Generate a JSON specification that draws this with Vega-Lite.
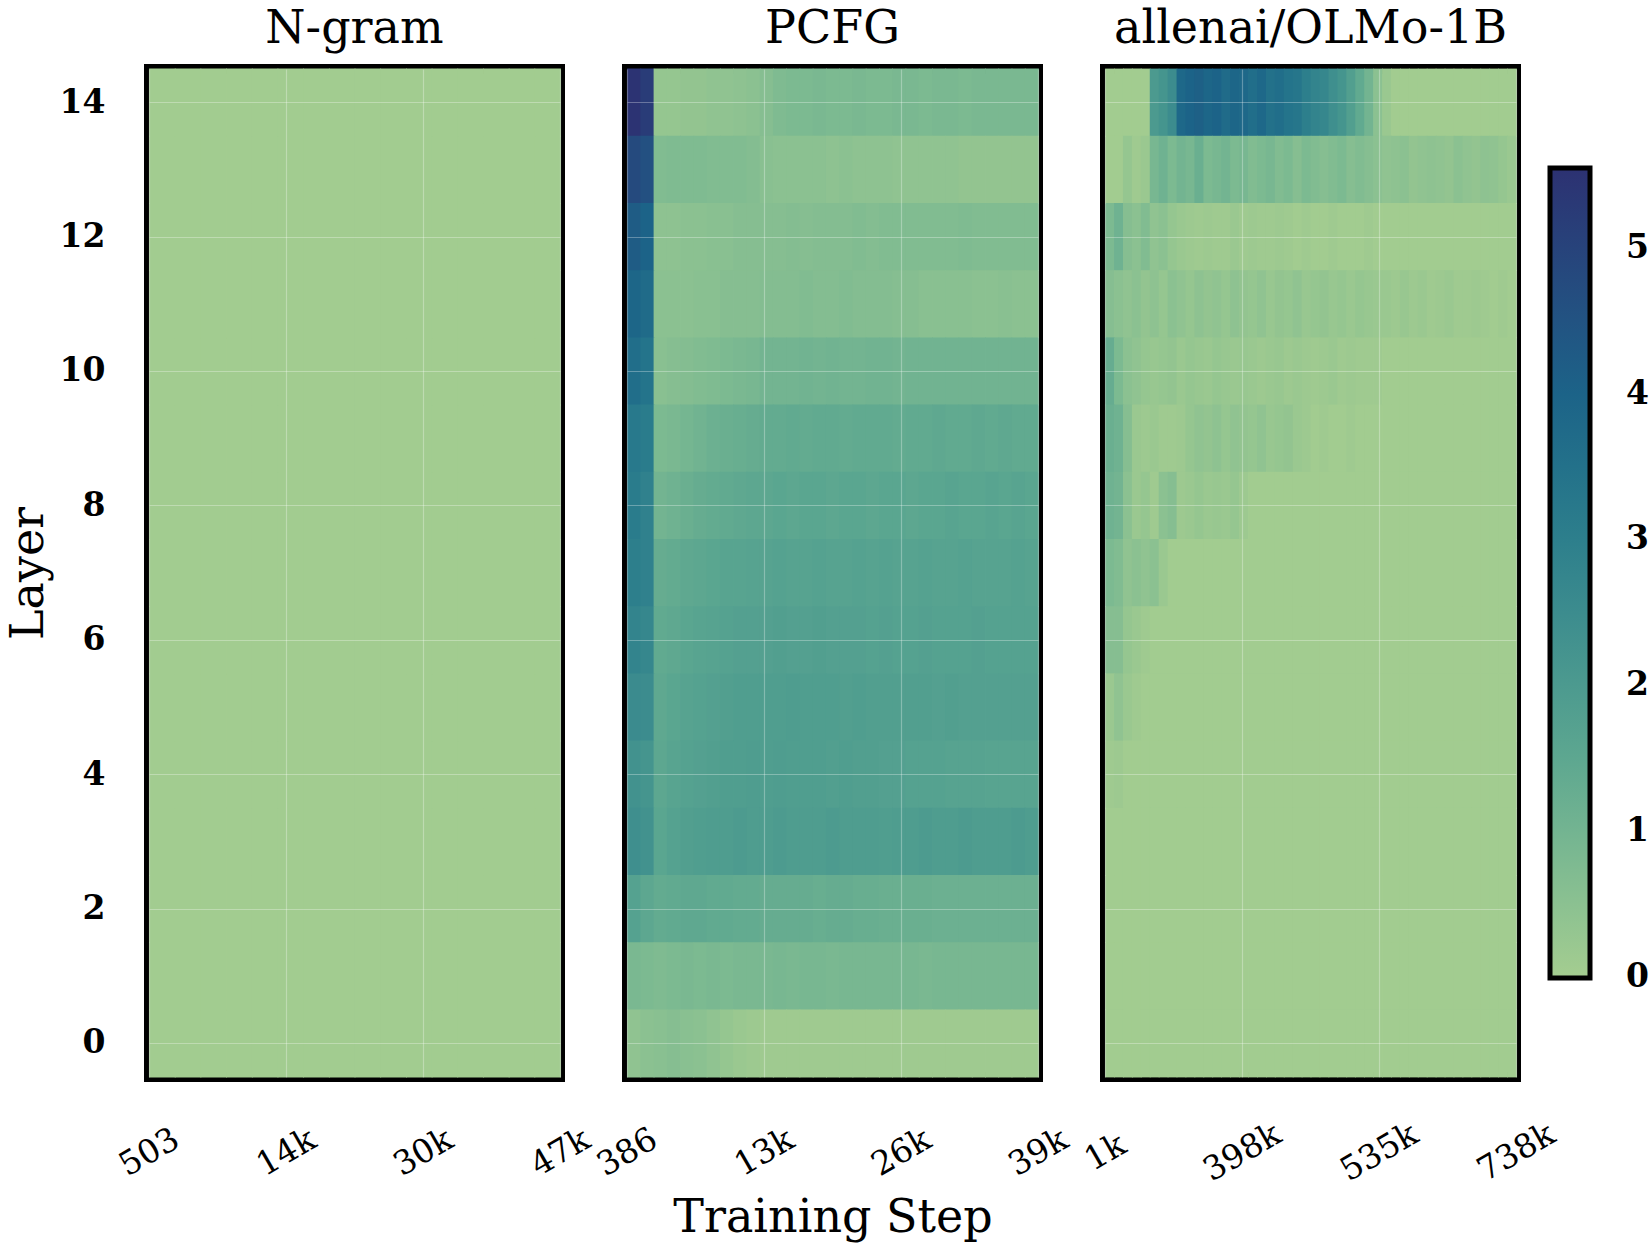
{
  "$schema": "https://vega.github.io/schema/vega-lite/v6.json",
  "padding": {"left": 0, "top": 0, "right": 0, "bottom": 0},
  "bounds": "flush",
  "config": {
    "font": "DejaVu Serif",
    "view": {"stroke": "black", "strokeWidth": 10},
    "axis": {
      "labelFont": "DejaVu Serif", "titleFont": "DejaVu Serif",
      "labelColor": "black", "titleColor": "black",
      "labelFontSize": 33, "titleFontSize": 46, "titleFontWeight": "normal",
      "ticks": false, "domain": false,
      "grid": true, "gridColor": "white", "gridOpacity": 0.3, "gridWidth": 1.2
    }
  },
  "datasets": {
    "ngram": [
      {"l":0,"s":0,"v":0.04},{"l":0,"s":1,"v":0.04},{"l":0,"s":2,"v":0.04},{"l":0,"s":3,"v":0.04},{"l":0,"s":4,"v":0.04},{"l":0,"s":5,"v":0.04},{"l":0,"s":6,"v":0.04},{"l":0,"s":7,"v":0.04},{"l":0,"s":8,"v":0.04},{"l":0,"s":9,"v":0.04},{"l":0,"s":10,"v":0.04},{"l":0,"s":11,"v":0.04},{"l":0,"s":12,"v":0.04},{"l":0,"s":13,"v":0.04},{"l":0,"s":14,"v":0.04},{"l":0,"s":15,"v":0.04},
      {"l":1,"s":0,"v":0.04},{"l":1,"s":1,"v":0.04},{"l":1,"s":2,"v":0.04},{"l":1,"s":3,"v":0.04},{"l":1,"s":4,"v":0.04},{"l":1,"s":5,"v":0.04},{"l":1,"s":6,"v":0.04},{"l":1,"s":7,"v":0.04},{"l":1,"s":8,"v":0.04},{"l":1,"s":9,"v":0.04},{"l":1,"s":10,"v":0.04},{"l":1,"s":11,"v":0.04},{"l":1,"s":12,"v":0.04},{"l":1,"s":13,"v":0.04},{"l":1,"s":14,"v":0.04},{"l":1,"s":15,"v":0.04},
      {"l":2,"s":0,"v":0.04},{"l":2,"s":1,"v":0.04},{"l":2,"s":2,"v":0.04},{"l":2,"s":3,"v":0.04},{"l":2,"s":4,"v":0.04},{"l":2,"s":5,"v":0.04},{"l":2,"s":6,"v":0.04},{"l":2,"s":7,"v":0.04},{"l":2,"s":8,"v":0.04},{"l":2,"s":9,"v":0.04},{"l":2,"s":10,"v":0.04},{"l":2,"s":11,"v":0.04},{"l":2,"s":12,"v":0.04},{"l":2,"s":13,"v":0.04},{"l":2,"s":14,"v":0.04},{"l":2,"s":15,"v":0.04},
      {"l":3,"s":0,"v":0.04},{"l":3,"s":1,"v":0.04},{"l":3,"s":2,"v":0.04},{"l":3,"s":3,"v":0.04},{"l":3,"s":4,"v":0.04},{"l":3,"s":5,"v":0.04},{"l":3,"s":6,"v":0.04},{"l":3,"s":7,"v":0.04},{"l":3,"s":8,"v":0.04},{"l":3,"s":9,"v":0.04},{"l":3,"s":10,"v":0.04},{"l":3,"s":11,"v":0.04},{"l":3,"s":12,"v":0.04},{"l":3,"s":13,"v":0.04},{"l":3,"s":14,"v":0.04},{"l":3,"s":15,"v":0.04},
      {"l":4,"s":0,"v":0.04},{"l":4,"s":1,"v":0.04},{"l":4,"s":2,"v":0.04},{"l":4,"s":3,"v":0.04},{"l":4,"s":4,"v":0.04},{"l":4,"s":5,"v":0.04},{"l":4,"s":6,"v":0.04},{"l":4,"s":7,"v":0.04},{"l":4,"s":8,"v":0.04},{"l":4,"s":9,"v":0.04},{"l":4,"s":10,"v":0.04},{"l":4,"s":11,"v":0.04},{"l":4,"s":12,"v":0.04},{"l":4,"s":13,"v":0.04},{"l":4,"s":14,"v":0.04},{"l":4,"s":15,"v":0.04},
      {"l":5,"s":0,"v":0.04},{"l":5,"s":1,"v":0.04},{"l":5,"s":2,"v":0.04},{"l":5,"s":3,"v":0.04},{"l":5,"s":4,"v":0.04},{"l":5,"s":5,"v":0.04},{"l":5,"s":6,"v":0.04},{"l":5,"s":7,"v":0.04},{"l":5,"s":8,"v":0.04},{"l":5,"s":9,"v":0.04},{"l":5,"s":10,"v":0.04},{"l":5,"s":11,"v":0.04},{"l":5,"s":12,"v":0.04},{"l":5,"s":13,"v":0.04},{"l":5,"s":14,"v":0.04},{"l":5,"s":15,"v":0.04},
      {"l":6,"s":0,"v":0.04},{"l":6,"s":1,"v":0.04},{"l":6,"s":2,"v":0.04},{"l":6,"s":3,"v":0.04},{"l":6,"s":4,"v":0.04},{"l":6,"s":5,"v":0.04},{"l":6,"s":6,"v":0.04},{"l":6,"s":7,"v":0.04},{"l":6,"s":8,"v":0.04},{"l":6,"s":9,"v":0.04},{"l":6,"s":10,"v":0.04},{"l":6,"s":11,"v":0.04},{"l":6,"s":12,"v":0.04},{"l":6,"s":13,"v":0.04},{"l":6,"s":14,"v":0.04},{"l":6,"s":15,"v":0.04},
      {"l":7,"s":0,"v":0.04},{"l":7,"s":1,"v":0.04},{"l":7,"s":2,"v":0.04},{"l":7,"s":3,"v":0.04},{"l":7,"s":4,"v":0.04},{"l":7,"s":5,"v":0.04},{"l":7,"s":6,"v":0.04},{"l":7,"s":7,"v":0.04},{"l":7,"s":8,"v":0.04},{"l":7,"s":9,"v":0.04},{"l":7,"s":10,"v":0.04},{"l":7,"s":11,"v":0.04},{"l":7,"s":12,"v":0.04},{"l":7,"s":13,"v":0.04},{"l":7,"s":14,"v":0.04},{"l":7,"s":15,"v":0.04},
      {"l":8,"s":0,"v":0.04},{"l":8,"s":1,"v":0.04},{"l":8,"s":2,"v":0.04},{"l":8,"s":3,"v":0.04},{"l":8,"s":4,"v":0.04},{"l":8,"s":5,"v":0.04},{"l":8,"s":6,"v":0.04},{"l":8,"s":7,"v":0.04},{"l":8,"s":8,"v":0.04},{"l":8,"s":9,"v":0.04},{"l":8,"s":10,"v":0.04},{"l":8,"s":11,"v":0.04},{"l":8,"s":12,"v":0.04},{"l":8,"s":13,"v":0.04},{"l":8,"s":14,"v":0.04},{"l":8,"s":15,"v":0.04},
      {"l":9,"s":0,"v":0.04},{"l":9,"s":1,"v":0.04},{"l":9,"s":2,"v":0.04},{"l":9,"s":3,"v":0.04},{"l":9,"s":4,"v":0.04},{"l":9,"s":5,"v":0.04},{"l":9,"s":6,"v":0.04},{"l":9,"s":7,"v":0.04},{"l":9,"s":8,"v":0.04},{"l":9,"s":9,"v":0.04},{"l":9,"s":10,"v":0.04},{"l":9,"s":11,"v":0.04},{"l":9,"s":12,"v":0.04},{"l":9,"s":13,"v":0.04},{"l":9,"s":14,"v":0.04},{"l":9,"s":15,"v":0.04},
      {"l":10,"s":0,"v":0.04},{"l":10,"s":1,"v":0.04},{"l":10,"s":2,"v":0.04},{"l":10,"s":3,"v":0.04},{"l":10,"s":4,"v":0.04},{"l":10,"s":5,"v":0.04},{"l":10,"s":6,"v":0.04},{"l":10,"s":7,"v":0.04},{"l":10,"s":8,"v":0.04},{"l":10,"s":9,"v":0.04},{"l":10,"s":10,"v":0.04},{"l":10,"s":11,"v":0.04},{"l":10,"s":12,"v":0.04},{"l":10,"s":13,"v":0.04},{"l":10,"s":14,"v":0.04},{"l":10,"s":15,"v":0.04},
      {"l":11,"s":0,"v":0.04},{"l":11,"s":1,"v":0.04},{"l":11,"s":2,"v":0.04},{"l":11,"s":3,"v":0.04},{"l":11,"s":4,"v":0.04},{"l":11,"s":5,"v":0.04},{"l":11,"s":6,"v":0.04},{"l":11,"s":7,"v":0.04},{"l":11,"s":8,"v":0.04},{"l":11,"s":9,"v":0.04},{"l":11,"s":10,"v":0.04},{"l":11,"s":11,"v":0.04},{"l":11,"s":12,"v":0.04},{"l":11,"s":13,"v":0.04},{"l":11,"s":14,"v":0.04},{"l":11,"s":15,"v":0.04},
      {"l":12,"s":0,"v":0.04},{"l":12,"s":1,"v":0.04},{"l":12,"s":2,"v":0.04},{"l":12,"s":3,"v":0.04},{"l":12,"s":4,"v":0.04},{"l":12,"s":5,"v":0.04},{"l":12,"s":6,"v":0.04},{"l":12,"s":7,"v":0.04},{"l":12,"s":8,"v":0.04},{"l":12,"s":9,"v":0.04},{"l":12,"s":10,"v":0.04},{"l":12,"s":11,"v":0.04},{"l":12,"s":12,"v":0.04},{"l":12,"s":13,"v":0.04},{"l":12,"s":14,"v":0.04},{"l":12,"s":15,"v":0.04},
      {"l":13,"s":0,"v":0.04},{"l":13,"s":1,"v":0.04},{"l":13,"s":2,"v":0.04},{"l":13,"s":3,"v":0.04},{"l":13,"s":4,"v":0.04},{"l":13,"s":5,"v":0.04},{"l":13,"s":6,"v":0.04},{"l":13,"s":7,"v":0.04},{"l":13,"s":8,"v":0.04},{"l":13,"s":9,"v":0.04},{"l":13,"s":10,"v":0.04},{"l":13,"s":11,"v":0.04},{"l":13,"s":12,"v":0.04},{"l":13,"s":13,"v":0.04},{"l":13,"s":14,"v":0.04},{"l":13,"s":15,"v":0.04},
      {"l":14,"s":0,"v":0.04},{"l":14,"s":1,"v":0.04},{"l":14,"s":2,"v":0.04},{"l":14,"s":3,"v":0.04},{"l":14,"s":4,"v":0.04},{"l":14,"s":5,"v":0.04},{"l":14,"s":6,"v":0.04},{"l":14,"s":7,"v":0.04},{"l":14,"s":8,"v":0.04},{"l":14,"s":9,"v":0.04},{"l":14,"s":10,"v":0.04},{"l":14,"s":11,"v":0.04},{"l":14,"s":12,"v":0.04},{"l":14,"s":13,"v":0.04},{"l":14,"s":14,"v":0.04},{"l":14,"s":15,"v":0.04}
    ],
    "pcfg": [
      {"l":14,"s":0,"v":5.5},{"l":14,"s":1,"v":5.2},{"l":14,"s":2,"v":0.3},{"l":14,"s":3,"v":0.3},{"l":14,"s":4,"v":0.35},{"l":14,"s":5,"v":0.35},{"l":14,"s":6,"v":0.4},{"l":14,"s":7,"v":0.4},{"l":14,"s":8,"v":0.45},{"l":14,"s":9,"v":0.5},{"l":14,"s":10,"v":0.6},{"l":14,"s":11,"v":0.75},{"l":14,"s":12,"v":0.8},{"l":14,"s":13,"v":0.8},{"l":14,"s":14,"v":0.85},{"l":14,"s":15,"v":0.8},{"l":14,"s":16,"v":0.8},{"l":14,"s":17,"v":0.85},{"l":14,"s":18,"v":0.8},{"l":14,"s":19,"v":0.8},{"l":14,"s":20,"v":0.85},{"l":14,"s":21,"v":0.85},{"l":14,"s":22,"v":0.8},{"l":14,"s":23,"v":0.85},{"l":14,"s":24,"v":0.85},{"l":14,"s":25,"v":0.8},{"l":14,"s":26,"v":0.85},{"l":14,"s":27,"v":0.85},{"l":14,"s":28,"v":0.85},{"l":14,"s":29,"v":0.85},{"l":14,"s":30,"v":0.85},
      {"l":13,"s":0,"v":4.8},{"l":13,"s":1,"v":4.6},{"l":13,"s":2,"v":0.7},{"l":13,"s":3,"v":0.75},{"l":13,"s":4,"v":0.75},{"l":13,"s":5,"v":0.75},{"l":13,"s":6,"v":0.7},{"l":13,"s":7,"v":0.7},{"l":13,"s":8,"v":0.7},{"l":13,"s":9,"v":0.65},{"l":13,"s":10,"v":0.55},{"l":13,"s":11,"v":0.5},{"l":13,"s":12,"v":0.5},{"l":13,"s":13,"v":0.5},{"l":13,"s":14,"v":0.5},{"l":13,"s":15,"v":0.45},{"l":13,"s":16,"v":0.5},{"l":13,"s":17,"v":0.45},{"l":13,"s":18,"v":0.45},{"l":13,"s":19,"v":0.45},{"l":13,"s":20,"v":0.4},{"l":13,"s":21,"v":0.4},{"l":13,"s":22,"v":0.4},{"l":13,"s":23,"v":0.4},{"l":13,"s":24,"v":0.4},{"l":13,"s":25,"v":0.35},{"l":13,"s":26,"v":0.35},{"l":13,"s":27,"v":0.35},{"l":13,"s":28,"v":0.35},{"l":13,"s":29,"v":0.35},{"l":13,"s":30,"v":0.35},
      {"l":12,"s":0,"v":4.2},{"l":12,"s":1,"v":4.0},{"l":12,"s":2,"v":0.45},{"l":12,"s":3,"v":0.45},{"l":12,"s":4,"v":0.5},{"l":12,"s":5,"v":0.5},{"l":12,"s":6,"v":0.55},{"l":12,"s":7,"v":0.55},{"l":12,"s":8,"v":0.6},{"l":12,"s":9,"v":0.6},{"l":12,"s":10,"v":0.6},{"l":12,"s":11,"v":0.6},{"l":12,"s":12,"v":0.65},{"l":12,"s":13,"v":0.6},{"l":12,"s":14,"v":0.65},{"l":12,"s":15,"v":0.65},{"l":12,"s":16,"v":0.65},{"l":12,"s":17,"v":0.7},{"l":12,"s":18,"v":0.65},{"l":12,"s":19,"v":0.7},{"l":12,"s":20,"v":0.7},{"l":12,"s":21,"v":0.7},{"l":12,"s":22,"v":0.7},{"l":12,"s":23,"v":0.7},{"l":12,"s":24,"v":0.7},{"l":12,"s":25,"v":0.75},{"l":12,"s":26,"v":0.7},{"l":12,"s":27,"v":0.7},{"l":12,"s":28,"v":0.7},{"l":12,"s":29,"v":0.7},{"l":12,"s":30,"v":0.7},
      {"l":11,"s":0,"v":3.9},{"l":11,"s":1,"v":3.7},{"l":11,"s":2,"v":0.5},{"l":11,"s":3,"v":0.5},{"l":11,"s":4,"v":0.5},{"l":11,"s":5,"v":0.55},{"l":11,"s":6,"v":0.55},{"l":11,"s":7,"v":0.6},{"l":11,"s":8,"v":0.6},{"l":11,"s":9,"v":0.6},{"l":11,"s":10,"v":0.65},{"l":11,"s":11,"v":0.65},{"l":11,"s":12,"v":0.65},{"l":11,"s":13,"v":0.7},{"l":11,"s":14,"v":0.65},{"l":11,"s":15,"v":0.65},{"l":11,"s":16,"v":0.7},{"l":11,"s":17,"v":0.65},{"l":11,"s":18,"v":0.65},{"l":11,"s":19,"v":0.65},{"l":11,"s":20,"v":0.6},{"l":11,"s":21,"v":0.6},{"l":11,"s":22,"v":0.55},{"l":11,"s":23,"v":0.55},{"l":11,"s":24,"v":0.55},{"l":11,"s":25,"v":0.55},{"l":11,"s":26,"v":0.5},{"l":11,"s":27,"v":0.5},{"l":11,"s":28,"v":0.55},{"l":11,"s":29,"v":0.5},{"l":11,"s":30,"v":0.5},
      {"l":10,"s":0,"v":3.6},{"l":10,"s":1,"v":3.4},{"l":10,"s":2,"v":0.55},{"l":10,"s":3,"v":0.6},{"l":10,"s":4,"v":0.65},{"l":10,"s":5,"v":0.7},{"l":10,"s":6,"v":0.75},{"l":10,"s":7,"v":0.8},{"l":10,"s":8,"v":0.85},{"l":10,"s":9,"v":0.9},{"l":10,"s":10,"v":1.0},{"l":10,"s":11,"v":1.0},{"l":10,"s":12,"v":1.0},{"l":10,"s":13,"v":1.05},{"l":10,"s":14,"v":1.0},{"l":10,"s":15,"v":1.05},{"l":10,"s":16,"v":1.0},{"l":10,"s":17,"v":1.0},{"l":10,"s":18,"v":1.05},{"l":10,"s":19,"v":1.05},{"l":10,"s":20,"v":1.0},{"l":10,"s":21,"v":1.05},{"l":10,"s":22,"v":1.05},{"l":10,"s":23,"v":1.05},{"l":10,"s":24,"v":1.05},{"l":10,"s":25,"v":1.05},{"l":10,"s":26,"v":1.05},{"l":10,"s":27,"v":1.05},{"l":10,"s":28,"v":1.05},{"l":10,"s":29,"v":1.05},{"l":10,"s":30,"v":1.05},
      {"l":9,"s":0,"v":3.2},{"l":9,"s":1,"v":3.1},{"l":9,"s":2,"v":0.8},{"l":9,"s":3,"v":0.85},{"l":9,"s":4,"v":0.95},{"l":9,"s":5,"v":1.05},{"l":9,"s":6,"v":1.15},{"l":9,"s":7,"v":1.2},{"l":9,"s":8,"v":1.25},{"l":9,"s":9,"v":1.3},{"l":9,"s":10,"v":1.35},{"l":9,"s":11,"v":1.35},{"l":9,"s":12,"v":1.4},{"l":9,"s":13,"v":1.35},{"l":9,"s":14,"v":1.4},{"l":9,"s":15,"v":1.4},{"l":9,"s":16,"v":1.35},{"l":9,"s":17,"v":1.4},{"l":9,"s":18,"v":1.4},{"l":9,"s":19,"v":1.4},{"l":9,"s":20,"v":1.35},{"l":9,"s":21,"v":1.4},{"l":9,"s":22,"v":1.4},{"l":9,"s":23,"v":1.45},{"l":9,"s":24,"v":1.4},{"l":9,"s":25,"v":1.4},{"l":9,"s":26,"v":1.45},{"l":9,"s":27,"v":1.4},{"l":9,"s":28,"v":1.45},{"l":9,"s":29,"v":1.4},{"l":9,"s":30,"v":1.4},
      {"l":8,"s":0,"v":3.1},{"l":8,"s":1,"v":2.9},{"l":8,"s":2,"v":1.0},{"l":8,"s":3,"v":1.1},{"l":8,"s":4,"v":1.2},{"l":8,"s":5,"v":1.3},{"l":8,"s":6,"v":1.35},{"l":8,"s":7,"v":1.4},{"l":8,"s":8,"v":1.45},{"l":8,"s":9,"v":1.5},{"l":8,"s":10,"v":1.5},{"l":8,"s":11,"v":1.55},{"l":8,"s":12,"v":1.5},{"l":8,"s":13,"v":1.55},{"l":8,"s":14,"v":1.55},{"l":8,"s":15,"v":1.5},{"l":8,"s":16,"v":1.55},{"l":8,"s":17,"v":1.55},{"l":8,"s":18,"v":1.5},{"l":8,"s":19,"v":1.55},{"l":8,"s":20,"v":1.55},{"l":8,"s":21,"v":1.5},{"l":8,"s":22,"v":1.55},{"l":8,"s":23,"v":1.55},{"l":8,"s":24,"v":1.6},{"l":8,"s":25,"v":1.55},{"l":8,"s":26,"v":1.55},{"l":8,"s":27,"v":1.6},{"l":8,"s":28,"v":1.55},{"l":8,"s":29,"v":1.6},{"l":8,"s":30,"v":1.55},
      {"l":7,"s":0,"v":3.0},{"l":7,"s":1,"v":2.9},{"l":7,"s":2,"v":1.3},{"l":7,"s":3,"v":1.35},{"l":7,"s":4,"v":1.45},{"l":7,"s":5,"v":1.5},{"l":7,"s":6,"v":1.55},{"l":7,"s":7,"v":1.6},{"l":7,"s":8,"v":1.6},{"l":7,"s":9,"v":1.65},{"l":7,"s":10,"v":1.65},{"l":7,"s":11,"v":1.7},{"l":7,"s":12,"v":1.65},{"l":7,"s":13,"v":1.65},{"l":7,"s":14,"v":1.7},{"l":7,"s":15,"v":1.65},{"l":7,"s":16,"v":1.65},{"l":7,"s":17,"v":1.7},{"l":7,"s":18,"v":1.65},{"l":7,"s":19,"v":1.7},{"l":7,"s":20,"v":1.65},{"l":7,"s":21,"v":1.65},{"l":7,"s":22,"v":1.7},{"l":7,"s":23,"v":1.65},{"l":7,"s":24,"v":1.65},{"l":7,"s":25,"v":1.7},{"l":7,"s":26,"v":1.65},{"l":7,"s":27,"v":1.65},{"l":7,"s":28,"v":1.65},{"l":7,"s":29,"v":1.7},{"l":7,"s":30,"v":1.65},
      {"l":6,"s":0,"v":2.8},{"l":6,"s":1,"v":2.7},{"l":6,"s":2,"v":1.4},{"l":6,"s":3,"v":1.45},{"l":6,"s":4,"v":1.55},{"l":6,"s":5,"v":1.6},{"l":6,"s":6,"v":1.65},{"l":6,"s":7,"v":1.7},{"l":6,"s":8,"v":1.75},{"l":6,"s":9,"v":1.75},{"l":6,"s":10,"v":1.75},{"l":6,"s":11,"v":1.8},{"l":6,"s":12,"v":1.75},{"l":6,"s":13,"v":1.75},{"l":6,"s":14,"v":1.8},{"l":6,"s":15,"v":1.75},{"l":6,"s":16,"v":1.75},{"l":6,"s":17,"v":1.75},{"l":6,"s":18,"v":1.7},{"l":6,"s":19,"v":1.75},{"l":6,"s":20,"v":1.7},{"l":6,"s":21,"v":1.7},{"l":6,"s":22,"v":1.75},{"l":6,"s":23,"v":1.7},{"l":6,"s":24,"v":1.7},{"l":6,"s":25,"v":1.7},{"l":6,"s":26,"v":1.75},{"l":6,"s":27,"v":1.7},{"l":6,"s":28,"v":1.7},{"l":6,"s":29,"v":1.7},{"l":6,"s":30,"v":1.7},
      {"l":5,"s":0,"v":2.55},{"l":5,"s":1,"v":2.5},{"l":5,"s":2,"v":1.45},{"l":5,"s":3,"v":1.55},{"l":5,"s":4,"v":1.65},{"l":5,"s":5,"v":1.7},{"l":5,"s":6,"v":1.75},{"l":5,"s":7,"v":1.8},{"l":5,"s":8,"v":1.85},{"l":5,"s":9,"v":1.85},{"l":5,"s":10,"v":1.85},{"l":5,"s":11,"v":1.85},{"l":5,"s":12,"v":1.9},{"l":5,"s":13,"v":1.85},{"l":5,"s":14,"v":1.85},{"l":5,"s":15,"v":1.85},{"l":5,"s":16,"v":1.8},{"l":5,"s":17,"v":1.85},{"l":5,"s":18,"v":1.8},{"l":5,"s":19,"v":1.8},{"l":5,"s":20,"v":1.8},{"l":5,"s":21,"v":1.8},{"l":5,"s":22,"v":1.8},{"l":5,"s":23,"v":1.75},{"l":5,"s":24,"v":1.8},{"l":5,"s":25,"v":1.75},{"l":5,"s":26,"v":1.75},{"l":5,"s":27,"v":1.75},{"l":5,"s":28,"v":1.75},{"l":5,"s":29,"v":1.75},{"l":5,"s":30,"v":1.75},
      {"l":4,"s":0,"v":2.3},{"l":4,"s":1,"v":2.2},{"l":4,"s":2,"v":1.5},{"l":4,"s":3,"v":1.6},{"l":4,"s":4,"v":1.7},{"l":4,"s":5,"v":1.75},{"l":4,"s":6,"v":1.8},{"l":4,"s":7,"v":1.85},{"l":4,"s":8,"v":1.85},{"l":4,"s":9,"v":1.9},{"l":4,"s":10,"v":1.85},{"l":4,"s":11,"v":1.9},{"l":4,"s":12,"v":1.85},{"l":4,"s":13,"v":1.85},{"l":4,"s":14,"v":1.85},{"l":4,"s":15,"v":1.8},{"l":4,"s":16,"v":1.85},{"l":4,"s":17,"v":1.8},{"l":4,"s":18,"v":1.8},{"l":4,"s":19,"v":1.75},{"l":4,"s":20,"v":1.75},{"l":4,"s":21,"v":1.7},{"l":4,"s":22,"v":1.7},{"l":4,"s":23,"v":1.7},{"l":4,"s":24,"v":1.65},{"l":4,"s":25,"v":1.65},{"l":4,"s":26,"v":1.65},{"l":4,"s":27,"v":1.6},{"l":4,"s":28,"v":1.6},{"l":4,"s":29,"v":1.6},{"l":4,"s":30,"v":1.6},
      {"l":3,"s":0,"v":2.4},{"l":3,"s":1,"v":2.3},{"l":3,"s":2,"v":1.55},{"l":3,"s":3,"v":1.7},{"l":3,"s":4,"v":1.8},{"l":3,"s":5,"v":1.85},{"l":3,"s":6,"v":1.9},{"l":3,"s":7,"v":1.9},{"l":3,"s":8,"v":1.95},{"l":3,"s":9,"v":1.9},{"l":3,"s":10,"v":1.9},{"l":3,"s":11,"v":1.95},{"l":3,"s":12,"v":1.9},{"l":3,"s":13,"v":1.9},{"l":3,"s":14,"v":1.9},{"l":3,"s":15,"v":1.95},{"l":3,"s":16,"v":1.9},{"l":3,"s":17,"v":1.9},{"l":3,"s":18,"v":1.9},{"l":3,"s":19,"v":1.85},{"l":3,"s":20,"v":1.9},{"l":3,"s":21,"v":1.9},{"l":3,"s":22,"v":1.95},{"l":3,"s":23,"v":1.9},{"l":3,"s":24,"v":1.9},{"l":3,"s":25,"v":1.95},{"l":3,"s":26,"v":1.9},{"l":3,"s":27,"v":1.9},{"l":3,"s":28,"v":1.9},{"l":3,"s":29,"v":1.95},{"l":3,"s":30,"v":1.9},
      {"l":2,"s":0,"v":1.7},{"l":2,"s":1,"v":1.5},{"l":2,"s":2,"v":1.35},{"l":2,"s":3,"v":1.4},{"l":2,"s":4,"v":1.45},{"l":2,"s":5,"v":1.45},{"l":2,"s":6,"v":1.4},{"l":2,"s":7,"v":1.4},{"l":2,"s":8,"v":1.35},{"l":2,"s":9,"v":1.35},{"l":2,"s":10,"v":1.3},{"l":2,"s":11,"v":1.3},{"l":2,"s":12,"v":1.3},{"l":2,"s":13,"v":1.3},{"l":2,"s":14,"v":1.25},{"l":2,"s":15,"v":1.3},{"l":2,"s":16,"v":1.3},{"l":2,"s":17,"v":1.25},{"l":2,"s":18,"v":1.25},{"l":2,"s":19,"v":1.2},{"l":2,"s":20,"v":1.2},{"l":2,"s":21,"v":1.2},{"l":2,"s":22,"v":1.2},{"l":2,"s":23,"v":1.15},{"l":2,"s":24,"v":1.15},{"l":2,"s":25,"v":1.15},{"l":2,"s":26,"v":1.15},{"l":2,"s":27,"v":1.15},{"l":2,"s":28,"v":1.15},{"l":2,"s":29,"v":1.15},{"l":2,"s":30,"v":1.15},
      {"l":1,"s":0,"v":0.85},{"l":1,"s":1,"v":0.8},{"l":1,"s":2,"v":0.75},{"l":1,"s":3,"v":0.8},{"l":1,"s":4,"v":0.85},{"l":1,"s":5,"v":0.8},{"l":1,"s":6,"v":0.85},{"l":1,"s":7,"v":0.8},{"l":1,"s":8,"v":0.85},{"l":1,"s":9,"v":0.85},{"l":1,"s":10,"v":0.85},{"l":1,"s":11,"v":0.9},{"l":1,"s":12,"v":0.85},{"l":1,"s":13,"v":0.9},{"l":1,"s":14,"v":0.9},{"l":1,"s":15,"v":0.85},{"l":1,"s":16,"v":0.9},{"l":1,"s":17,"v":0.9},{"l":1,"s":18,"v":0.9},{"l":1,"s":19,"v":0.9},{"l":1,"s":20,"v":0.9},{"l":1,"s":21,"v":0.9},{"l":1,"s":22,"v":0.85},{"l":1,"s":23,"v":0.9},{"l":1,"s":24,"v":0.9},{"l":1,"s":25,"v":0.9},{"l":1,"s":26,"v":0.9},{"l":1,"s":27,"v":0.9},{"l":1,"s":28,"v":0.9},{"l":1,"s":29,"v":0.9},{"l":1,"s":30,"v":0.9},
      {"l":0,"s":0,"v":0.4},{"l":0,"s":1,"v":0.5},{"l":0,"s":2,"v":0.55},{"l":0,"s":3,"v":0.6},{"l":0,"s":4,"v":0.55},{"l":0,"s":5,"v":0.5},{"l":0,"s":6,"v":0.4},{"l":0,"s":7,"v":0.3},{"l":0,"s":8,"v":0.2},{"l":0,"s":9,"v":0.15},{"l":0,"s":10,"v":0.1},{"l":0,"s":11,"v":0.1},{"l":0,"s":12,"v":0.1},{"l":0,"s":13,"v":0.1},{"l":0,"s":14,"v":0.1},{"l":0,"s":15,"v":0.1},{"l":0,"s":16,"v":0.1},{"l":0,"s":17,"v":0.1},{"l":0,"s":18,"v":0.1},{"l":0,"s":19,"v":0.1},{"l":0,"s":20,"v":0.1},{"l":0,"s":21,"v":0.1},{"l":0,"s":22,"v":0.1},{"l":0,"s":23,"v":0.1},{"l":0,"s":24,"v":0.1},{"l":0,"s":25,"v":0.1},{"l":0,"s":26,"v":0.1},{"l":0,"s":27,"v":0.1},{"l":0,"s":28,"v":0.1},{"l":0,"s":29,"v":0.1},{"l":0,"s":30,"v":0.1}
    ],
    "olmo": [
      {"l":14,"s":0,"v":0.05},{"l":14,"s":1,"v":0.05},{"l":14,"s":2,"v":0.05},{"l":14,"s":3,"v":0.05},{"l":14,"s":4,"v":0.05},{"l":14,"s":5,"v":2.0},{"l":14,"s":6,"v":2.2},{"l":14,"s":7,"v":2.5},{"l":14,"s":8,"v":3.8},{"l":14,"s":9,"v":4.0},{"l":14,"s":10,"v":4.1},{"l":14,"s":11,"v":3.9},{"l":14,"s":12,"v":4.0},{"l":14,"s":13,"v":3.7},{"l":14,"s":14,"v":3.9},{"l":14,"s":15,"v":3.8},{"l":14,"s":16,"v":3.6},{"l":14,"s":17,"v":3.8},{"l":14,"s":18,"v":3.5},{"l":14,"s":19,"v":3.6},{"l":14,"s":20,"v":3.4},{"l":14,"s":21,"v":3.3},{"l":14,"s":22,"v":3.0},{"l":14,"s":23,"v":2.8},{"l":14,"s":24,"v":2.7},{"l":14,"s":25,"v":2.4},{"l":14,"s":26,"v":2.2},{"l":14,"s":27,"v":1.8},{"l":14,"s":28,"v":1.4},{"l":14,"s":29,"v":1.0},{"l":14,"s":30,"v":0.5},{"l":14,"s":31,"v":0.2},{"l":14,"s":32,"v":0.05},{"l":14,"s":33,"v":0.05},{"l":14,"s":34,"v":0.05},{"l":14,"s":35,"v":0.05},{"l":14,"s":36,"v":0.05},{"l":14,"s":37,"v":0.05},{"l":14,"s":38,"v":0.05},{"l":14,"s":39,"v":0.05},{"l":14,"s":40,"v":0.05},{"l":14,"s":41,"v":0.05},{"l":14,"s":42,"v":0.05},{"l":14,"s":43,"v":0.05},{"l":14,"s":44,"v":0.05},{"l":14,"s":45,"v":0.05},
      {"l":13,"s":0,"v":0.05},{"l":13,"s":1,"v":0.05},{"l":13,"s":2,"v":0.3},{"l":13,"s":3,"v":0.1},{"l":13,"s":4,"v":0.2},{"l":13,"s":5,"v":0.9},{"l":13,"s":6,"v":1.1},{"l":13,"s":7,"v":0.8},{"l":13,"s":8,"v":1.0},{"l":13,"s":9,"v":0.9},{"l":13,"s":10,"v":1.2},{"l":13,"s":11,"v":0.8},{"l":13,"s":12,"v":0.9},{"l":13,"s":13,"v":1.0},{"l":13,"s":14,"v":0.8},{"l":13,"s":15,"v":0.9},{"l":13,"s":16,"v":0.7},{"l":13,"s":17,"v":0.8},{"l":13,"s":18,"v":0.9},{"l":13,"s":19,"v":0.7},{"l":13,"s":20,"v":0.8},{"l":13,"s":21,"v":0.6},{"l":13,"s":22,"v":0.8},{"l":13,"s":23,"v":0.7},{"l":13,"s":24,"v":0.6},{"l":13,"s":25,"v":0.7},{"l":13,"s":26,"v":0.8},{"l":13,"s":27,"v":0.6},{"l":13,"s":28,"v":0.7},{"l":13,"s":29,"v":0.6},{"l":13,"s":30,"v":0.5},{"l":13,"s":31,"v":0.4},{"l":13,"s":32,"v":0.45},{"l":13,"s":33,"v":0.5},{"l":13,"s":34,"v":0.35},{"l":13,"s":35,"v":0.4},{"l":13,"s":36,"v":0.45},{"l":13,"s":37,"v":0.4},{"l":13,"s":38,"v":0.35},{"l":13,"s":39,"v":0.5},{"l":13,"s":40,"v":0.4},{"l":13,"s":41,"v":0.35},{"l":13,"s":42,"v":0.45},{"l":13,"s":43,"v":0.4},{"l":13,"s":44,"v":0.3},{"l":13,"s":45,"v":0.2},
      {"l":12,"s":0,"v":0.8},{"l":12,"s":1,"v":1.1},{"l":12,"s":2,"v":0.6},{"l":12,"s":3,"v":0.5},{"l":12,"s":4,"v":0.7},{"l":12,"s":5,"v":0.4},{"l":12,"s":6,"v":0.5},{"l":12,"s":7,"v":0.3},{"l":12,"s":8,"v":0.2},{"l":12,"s":9,"v":0.15},{"l":12,"s":10,"v":0.1},{"l":12,"s":11,"v":0.15},{"l":12,"s":12,"v":0.1},{"l":12,"s":13,"v":0.1},{"l":12,"s":14,"v":0.2},{"l":12,"s":15,"v":0.1},{"l":12,"s":16,"v":0.15},{"l":12,"s":17,"v":0.1},{"l":12,"s":18,"v":0.1},{"l":12,"s":19,"v":0.15},{"l":12,"s":20,"v":0.1},{"l":12,"s":21,"v":0.05},{"l":12,"s":22,"v":0.1},{"l":12,"s":23,"v":0.05},{"l":12,"s":24,"v":0.05},{"l":12,"s":25,"v":0.1},{"l":12,"s":26,"v":0.05},{"l":12,"s":27,"v":0.05},{"l":12,"s":28,"v":0.05},{"l":12,"s":29,"v":0.1},{"l":12,"s":30,"v":0.05},{"l":12,"s":31,"v":0.05},{"l":12,"s":32,"v":0.05},{"l":12,"s":33,"v":0.05},{"l":12,"s":34,"v":0.05},{"l":12,"s":35,"v":0.05},{"l":12,"s":36,"v":0.05},{"l":12,"s":37,"v":0.05},{"l":12,"s":38,"v":0.05},{"l":12,"s":39,"v":0.05},{"l":12,"s":40,"v":0.05},{"l":12,"s":41,"v":0.05},{"l":12,"s":42,"v":0.05},{"l":12,"s":43,"v":0.05},{"l":12,"s":44,"v":0.05},{"l":12,"s":45,"v":0.05},
      {"l":11,"s":0,"v":0.6},{"l":11,"s":1,"v":0.5},{"l":11,"s":2,"v":0.4},{"l":11,"s":3,"v":0.5},{"l":11,"s":4,"v":0.35},{"l":11,"s":5,"v":0.45},{"l":11,"s":6,"v":0.3},{"l":11,"s":7,"v":0.5},{"l":11,"s":8,"v":0.4},{"l":11,"s":9,"v":0.3},{"l":11,"s":10,"v":0.45},{"l":11,"s":11,"v":0.35},{"l":11,"s":12,"v":0.4},{"l":11,"s":13,"v":0.3},{"l":11,"s":14,"v":0.45},{"l":11,"s":15,"v":0.35},{"l":11,"s":16,"v":0.3},{"l":11,"s":17,"v":0.4},{"l":11,"s":18,"v":0.25},{"l":11,"s":19,"v":0.35},{"l":11,"s":20,"v":0.3},{"l":11,"s":21,"v":0.4},{"l":11,"s":22,"v":0.25},{"l":11,"s":23,"v":0.3},{"l":11,"s":24,"v":0.35},{"l":11,"s":25,"v":0.25},{"l":11,"s":26,"v":0.3},{"l":11,"s":27,"v":0.2},{"l":11,"s":28,"v":0.3},{"l":11,"s":29,"v":0.25},{"l":11,"s":30,"v":0.2},{"l":11,"s":31,"v":0.2},{"l":11,"s":32,"v":0.15},{"l":11,"s":33,"v":0.25},{"l":11,"s":34,"v":0.15},{"l":11,"s":35,"v":0.2},{"l":11,"s":36,"v":0.1},{"l":11,"s":37,"v":0.15},{"l":11,"s":38,"v":0.2},{"l":11,"s":39,"v":0.1},{"l":11,"s":40,"v":0.1},{"l":11,"s":41,"v":0.15},{"l":11,"s":42,"v":0.1},{"l":11,"s":43,"v":0.05},{"l":11,"s":44,"v":0.1},{"l":11,"s":45,"v":0.05},
      {"l":10,"s":0,"v":1.3},{"l":10,"s":1,"v":0.8},{"l":10,"s":2,"v":0.5},{"l":10,"s":3,"v":0.4},{"l":10,"s":4,"v":0.3},{"l":10,"s":5,"v":0.25},{"l":10,"s":6,"v":0.3},{"l":10,"s":7,"v":0.35},{"l":10,"s":8,"v":0.2},{"l":10,"s":9,"v":0.3},{"l":10,"s":10,"v":0.25},{"l":10,"s":11,"v":0.2},{"l":10,"s":12,"v":0.3},{"l":10,"s":13,"v":0.25},{"l":10,"s":14,"v":0.2},{"l":10,"s":15,"v":0.25},{"l":10,"s":16,"v":0.2},{"l":10,"s":17,"v":0.15},{"l":10,"s":18,"v":0.2},{"l":10,"s":19,"v":0.25},{"l":10,"s":20,"v":0.15},{"l":10,"s":21,"v":0.2},{"l":10,"s":22,"v":0.15},{"l":10,"s":23,"v":0.1},{"l":10,"s":24,"v":0.15},{"l":10,"s":25,"v":0.2},{"l":10,"s":26,"v":0.1},{"l":10,"s":27,"v":0.15},{"l":10,"s":28,"v":0.1},{"l":10,"s":29,"v":0.1},{"l":10,"s":30,"v":0.1},{"l":10,"s":31,"v":0.05},{"l":10,"s":32,"v":0.05},{"l":10,"s":33,"v":0.05},{"l":10,"s":34,"v":0.05},{"l":10,"s":35,"v":0.05},{"l":10,"s":36,"v":0.05},{"l":10,"s":37,"v":0.05},{"l":10,"s":38,"v":0.05},{"l":10,"s":39,"v":0.05},{"l":10,"s":40,"v":0.05},{"l":10,"s":41,"v":0.05},{"l":10,"s":42,"v":0.05},{"l":10,"s":43,"v":0.05},{"l":10,"s":44,"v":0.05},{"l":10,"s":45,"v":0.05},
      {"l":9,"s":0,"v":1.2},{"l":9,"s":1,"v":1.1},{"l":9,"s":2,"v":0.6},{"l":9,"s":3,"v":0.2},{"l":9,"s":4,"v":0.15},{"l":9,"s":5,"v":0.2},{"l":9,"s":6,"v":0.1},{"l":9,"s":7,"v":0.1},{"l":9,"s":8,"v":0.15},{"l":9,"s":9,"v":0.3},{"l":9,"s":10,"v":0.4},{"l":9,"s":11,"v":0.35},{"l":9,"s":12,"v":0.45},{"l":9,"s":13,"v":0.3},{"l":9,"s":14,"v":0.4},{"l":9,"s":15,"v":0.35},{"l":9,"s":16,"v":0.3},{"l":9,"s":17,"v":0.4},{"l":9,"s":18,"v":0.25},{"l":9,"s":19,"v":0.3},{"l":9,"s":20,"v":0.35},{"l":9,"s":21,"v":0.2},{"l":9,"s":22,"v":0.15},{"l":9,"s":23,"v":0.05},{"l":9,"s":24,"v":0.1},{"l":9,"s":25,"v":0.05},{"l":9,"s":26,"v":0.05},{"l":9,"s":27,"v":0.1},{"l":9,"s":28,"v":0.05},{"l":9,"s":29,"v":0.05},{"l":9,"s":30,"v":0.05},{"l":9,"s":31,"v":0.05},{"l":9,"s":32,"v":0.05},{"l":9,"s":33,"v":0.05},{"l":9,"s":34,"v":0.05},{"l":9,"s":35,"v":0.05},{"l":9,"s":36,"v":0.05},{"l":9,"s":37,"v":0.05},{"l":9,"s":38,"v":0.05},{"l":9,"s":39,"v":0.05},{"l":9,"s":40,"v":0.05},{"l":9,"s":41,"v":0.05},{"l":9,"s":42,"v":0.05},{"l":9,"s":43,"v":0.05},{"l":9,"s":44,"v":0.05},{"l":9,"s":45,"v":0.05},
      {"l":8,"s":0,"v":1.1},{"l":8,"s":1,"v":1.0},{"l":8,"s":2,"v":0.5},{"l":8,"s":3,"v":0.2},{"l":8,"s":4,"v":0.3},{"l":8,"s":5,"v":0.1},{"l":8,"s":6,"v":0.5},{"l":8,"s":7,"v":0.6},{"l":8,"s":8,"v":0.15},{"l":8,"s":9,"v":0.2},{"l":8,"s":10,"v":0.3},{"l":8,"s":11,"v":0.2},{"l":8,"s":12,"v":0.25},{"l":8,"s":13,"v":0.2},{"l":8,"s":14,"v":0.3},{"l":8,"s":15,"v":0.15},{"l":8,"s":16,"v":0.05},{"l":8,"s":17,"v":0.05},{"l":8,"s":18,"v":0.05},{"l":8,"s":19,"v":0.05},{"l":8,"s":20,"v":0.05},{"l":8,"s":21,"v":0.05},{"l":8,"s":22,"v":0.05},{"l":8,"s":23,"v":0.05},{"l":8,"s":24,"v":0.05},{"l":8,"s":25,"v":0.05},{"l":8,"s":26,"v":0.05},{"l":8,"s":27,"v":0.05},{"l":8,"s":28,"v":0.05},{"l":8,"s":29,"v":0.05},{"l":8,"s":30,"v":0.05},{"l":8,"s":31,"v":0.05},{"l":8,"s":32,"v":0.05},{"l":8,"s":33,"v":0.05},{"l":8,"s":34,"v":0.05},{"l":8,"s":35,"v":0.05},{"l":8,"s":36,"v":0.05},{"l":8,"s":37,"v":0.05},{"l":8,"s":38,"v":0.05},{"l":8,"s":39,"v":0.05},{"l":8,"s":40,"v":0.05},{"l":8,"s":41,"v":0.05},{"l":8,"s":42,"v":0.05},{"l":8,"s":43,"v":0.05},{"l":8,"s":44,"v":0.05},{"l":8,"s":45,"v":0.05},
      {"l":7,"s":0,"v":0.8},{"l":7,"s":1,"v":0.7},{"l":7,"s":2,"v":0.4},{"l":7,"s":3,"v":0.5},{"l":7,"s":4,"v":0.4},{"l":7,"s":5,"v":0.5},{"l":7,"s":6,"v":0.2},{"l":7,"s":7,"v":0.04},{"l":7,"s":8,"v":0.04},{"l":7,"s":9,"v":0.04},{"l":7,"s":10,"v":0.04},{"l":7,"s":11,"v":0.04},{"l":7,"s":12,"v":0.04},{"l":7,"s":13,"v":0.04},{"l":7,"s":14,"v":0.04},{"l":7,"s":15,"v":0.04},{"l":7,"s":16,"v":0.04},{"l":7,"s":17,"v":0.04},{"l":7,"s":18,"v":0.04},{"l":7,"s":19,"v":0.04},{"l":7,"s":20,"v":0.04},{"l":7,"s":21,"v":0.04},{"l":7,"s":22,"v":0.04},{"l":7,"s":23,"v":0.04},{"l":7,"s":24,"v":0.04},{"l":7,"s":25,"v":0.04},{"l":7,"s":26,"v":0.04},{"l":7,"s":27,"v":0.04},{"l":7,"s":28,"v":0.04},{"l":7,"s":29,"v":0.04},{"l":7,"s":30,"v":0.04},{"l":7,"s":31,"v":0.04},{"l":7,"s":32,"v":0.04},{"l":7,"s":33,"v":0.04},{"l":7,"s":34,"v":0.04},{"l":7,"s":35,"v":0.04},{"l":7,"s":36,"v":0.04},{"l":7,"s":37,"v":0.04},{"l":7,"s":38,"v":0.04},{"l":7,"s":39,"v":0.04},{"l":7,"s":40,"v":0.04},{"l":7,"s":41,"v":0.04},{"l":7,"s":42,"v":0.04},{"l":7,"s":43,"v":0.04},{"l":7,"s":44,"v":0.04},{"l":7,"s":45,"v":0.04},
      {"l":6,"s":0,"v":0.6},{"l":6,"s":1,"v":0.6},{"l":6,"s":2,"v":0.3},{"l":6,"s":3,"v":0.2},{"l":6,"s":4,"v":0.1},{"l":6,"s":5,"v":0.04},{"l":6,"s":6,"v":0.04},{"l":6,"s":7,"v":0.04},{"l":6,"s":8,"v":0.04},{"l":6,"s":9,"v":0.04},{"l":6,"s":10,"v":0.04},{"l":6,"s":11,"v":0.04},{"l":6,"s":12,"v":0.04},{"l":6,"s":13,"v":0.04},{"l":6,"s":14,"v":0.04},{"l":6,"s":15,"v":0.04},{"l":6,"s":16,"v":0.04},{"l":6,"s":17,"v":0.04},{"l":6,"s":18,"v":0.04},{"l":6,"s":19,"v":0.04},{"l":6,"s":20,"v":0.04},{"l":6,"s":21,"v":0.04},{"l":6,"s":22,"v":0.04},{"l":6,"s":23,"v":0.04},{"l":6,"s":24,"v":0.04},{"l":6,"s":25,"v":0.04},{"l":6,"s":26,"v":0.04},{"l":6,"s":27,"v":0.04},{"l":6,"s":28,"v":0.04},{"l":6,"s":29,"v":0.04},{"l":6,"s":30,"v":0.04},{"l":6,"s":31,"v":0.04},{"l":6,"s":32,"v":0.04},{"l":6,"s":33,"v":0.04},{"l":6,"s":34,"v":0.04},{"l":6,"s":35,"v":0.04},{"l":6,"s":36,"v":0.04},{"l":6,"s":37,"v":0.04},{"l":6,"s":38,"v":0.04},{"l":6,"s":39,"v":0.04},{"l":6,"s":40,"v":0.04},{"l":6,"s":41,"v":0.04},{"l":6,"s":42,"v":0.04},{"l":6,"s":43,"v":0.04},{"l":6,"s":44,"v":0.04},{"l":6,"s":45,"v":0.04},
      {"l":5,"s":0,"v":0.2},{"l":5,"s":1,"v":0.4},{"l":5,"s":2,"v":0.2},{"l":5,"s":3,"v":0.1},{"l":5,"s":4,"v":0.04},{"l":5,"s":5,"v":0.04},{"l":5,"s":6,"v":0.04},{"l":5,"s":7,"v":0.04},{"l":5,"s":8,"v":0.04},{"l":5,"s":9,"v":0.04},{"l":5,"s":10,"v":0.04},{"l":5,"s":11,"v":0.04},{"l":5,"s":12,"v":0.04},{"l":5,"s":13,"v":0.04},{"l":5,"s":14,"v":0.04},{"l":5,"s":15,"v":0.04},{"l":5,"s":16,"v":0.04},{"l":5,"s":17,"v":0.04},{"l":5,"s":18,"v":0.04},{"l":5,"s":19,"v":0.04},{"l":5,"s":20,"v":0.04},{"l":5,"s":21,"v":0.04},{"l":5,"s":22,"v":0.04},{"l":5,"s":23,"v":0.04},{"l":5,"s":24,"v":0.04},{"l":5,"s":25,"v":0.04},{"l":5,"s":26,"v":0.04},{"l":5,"s":27,"v":0.04},{"l":5,"s":28,"v":0.04},{"l":5,"s":29,"v":0.04},{"l":5,"s":30,"v":0.04},{"l":5,"s":31,"v":0.04},{"l":5,"s":32,"v":0.04},{"l":5,"s":33,"v":0.04},{"l":5,"s":34,"v":0.04},{"l":5,"s":35,"v":0.04},{"l":5,"s":36,"v":0.04},{"l":5,"s":37,"v":0.04},{"l":5,"s":38,"v":0.04},{"l":5,"s":39,"v":0.04},{"l":5,"s":40,"v":0.04},{"l":5,"s":41,"v":0.04},{"l":5,"s":42,"v":0.04},{"l":5,"s":43,"v":0.04},{"l":5,"s":44,"v":0.04},{"l":5,"s":45,"v":0.04},
      {"l":4,"s":0,"v":0.1},{"l":4,"s":1,"v":0.15},{"l":4,"s":2,"v":0.04},{"l":4,"s":3,"v":0.04},{"l":4,"s":4,"v":0.04},{"l":4,"s":5,"v":0.04},{"l":4,"s":6,"v":0.04},{"l":4,"s":7,"v":0.04},{"l":4,"s":8,"v":0.04},{"l":4,"s":9,"v":0.04},{"l":4,"s":10,"v":0.04},{"l":4,"s":11,"v":0.04},{"l":4,"s":12,"v":0.04},{"l":4,"s":13,"v":0.04},{"l":4,"s":14,"v":0.04},{"l":4,"s":15,"v":0.04},{"l":4,"s":16,"v":0.04},{"l":4,"s":17,"v":0.04},{"l":4,"s":18,"v":0.04},{"l":4,"s":19,"v":0.04},{"l":4,"s":20,"v":0.04},{"l":4,"s":21,"v":0.04},{"l":4,"s":22,"v":0.04},{"l":4,"s":23,"v":0.04},{"l":4,"s":24,"v":0.04},{"l":4,"s":25,"v":0.04},{"l":4,"s":26,"v":0.04},{"l":4,"s":27,"v":0.04},{"l":4,"s":28,"v":0.04},{"l":4,"s":29,"v":0.04},{"l":4,"s":30,"v":0.04},{"l":4,"s":31,"v":0.04},{"l":4,"s":32,"v":0.04},{"l":4,"s":33,"v":0.04},{"l":4,"s":34,"v":0.04},{"l":4,"s":35,"v":0.04},{"l":4,"s":36,"v":0.04},{"l":4,"s":37,"v":0.04},{"l":4,"s":38,"v":0.04},{"l":4,"s":39,"v":0.04},{"l":4,"s":40,"v":0.04},{"l":4,"s":41,"v":0.04},{"l":4,"s":42,"v":0.04},{"l":4,"s":43,"v":0.04},{"l":4,"s":44,"v":0.04},{"l":4,"s":45,"v":0.04},
      {"l":3,"s":0,"v":0.04},{"l":3,"s":1,"v":0.04},{"l":3,"s":2,"v":0.04},{"l":3,"s":3,"v":0.04},{"l":3,"s":4,"v":0.04},{"l":3,"s":5,"v":0.04},{"l":3,"s":6,"v":0.04},{"l":3,"s":7,"v":0.04},{"l":3,"s":8,"v":0.04},{"l":3,"s":9,"v":0.04},{"l":3,"s":10,"v":0.04},{"l":3,"s":11,"v":0.04},{"l":3,"s":12,"v":0.04},{"l":3,"s":13,"v":0.04},{"l":3,"s":14,"v":0.04},{"l":3,"s":15,"v":0.04},{"l":3,"s":16,"v":0.04},{"l":3,"s":17,"v":0.04},{"l":3,"s":18,"v":0.04},{"l":3,"s":19,"v":0.04},{"l":3,"s":20,"v":0.04},{"l":3,"s":21,"v":0.04},{"l":3,"s":22,"v":0.04},{"l":3,"s":23,"v":0.04},{"l":3,"s":24,"v":0.04},{"l":3,"s":25,"v":0.04},{"l":3,"s":26,"v":0.04},{"l":3,"s":27,"v":0.04},{"l":3,"s":28,"v":0.04},{"l":3,"s":29,"v":0.04},{"l":3,"s":30,"v":0.04},{"l":3,"s":31,"v":0.04},{"l":3,"s":32,"v":0.04},{"l":3,"s":33,"v":0.04},{"l":3,"s":34,"v":0.04},{"l":3,"s":35,"v":0.04},{"l":3,"s":36,"v":0.04},{"l":3,"s":37,"v":0.04},{"l":3,"s":38,"v":0.04},{"l":3,"s":39,"v":0.04},{"l":3,"s":40,"v":0.04},{"l":3,"s":41,"v":0.04},{"l":3,"s":42,"v":0.04},{"l":3,"s":43,"v":0.04},{"l":3,"s":44,"v":0.04},{"l":3,"s":45,"v":0.04},
      {"l":2,"s":0,"v":0.04},{"l":2,"s":1,"v":0.04},{"l":2,"s":2,"v":0.04},{"l":2,"s":3,"v":0.04},{"l":2,"s":4,"v":0.04},{"l":2,"s":5,"v":0.04},{"l":2,"s":6,"v":0.04},{"l":2,"s":7,"v":0.04},{"l":2,"s":8,"v":0.04},{"l":2,"s":9,"v":0.04},{"l":2,"s":10,"v":0.04},{"l":2,"s":11,"v":0.04},{"l":2,"s":12,"v":0.04},{"l":2,"s":13,"v":0.04},{"l":2,"s":14,"v":0.04},{"l":2,"s":15,"v":0.04},{"l":2,"s":16,"v":0.04},{"l":2,"s":17,"v":0.04},{"l":2,"s":18,"v":0.04},{"l":2,"s":19,"v":0.04},{"l":2,"s":20,"v":0.04},{"l":2,"s":21,"v":0.04},{"l":2,"s":22,"v":0.04},{"l":2,"s":23,"v":0.04},{"l":2,"s":24,"v":0.04},{"l":2,"s":25,"v":0.04},{"l":2,"s":26,"v":0.04},{"l":2,"s":27,"v":0.04},{"l":2,"s":28,"v":0.04},{"l":2,"s":29,"v":0.04},{"l":2,"s":30,"v":0.04},{"l":2,"s":31,"v":0.04},{"l":2,"s":32,"v":0.04},{"l":2,"s":33,"v":0.04},{"l":2,"s":34,"v":0.04},{"l":2,"s":35,"v":0.04},{"l":2,"s":36,"v":0.04},{"l":2,"s":37,"v":0.04},{"l":2,"s":38,"v":0.04},{"l":2,"s":39,"v":0.04},{"l":2,"s":40,"v":0.04},{"l":2,"s":41,"v":0.04},{"l":2,"s":42,"v":0.04},{"l":2,"s":43,"v":0.04},{"l":2,"s":44,"v":0.04},{"l":2,"s":45,"v":0.04},
      {"l":1,"s":0,"v":0.04},{"l":1,"s":1,"v":0.04},{"l":1,"s":2,"v":0.04},{"l":1,"s":3,"v":0.04},{"l":1,"s":4,"v":0.04},{"l":1,"s":5,"v":0.04},{"l":1,"s":6,"v":0.04},{"l":1,"s":7,"v":0.04},{"l":1,"s":8,"v":0.04},{"l":1,"s":9,"v":0.04},{"l":1,"s":10,"v":0.04},{"l":1,"s":11,"v":0.04},{"l":1,"s":12,"v":0.04},{"l":1,"s":13,"v":0.04},{"l":1,"s":14,"v":0.04},{"l":1,"s":15,"v":0.04},{"l":1,"s":16,"v":0.04},{"l":1,"s":17,"v":0.04},{"l":1,"s":18,"v":0.04},{"l":1,"s":19,"v":0.04},{"l":1,"s":20,"v":0.04},{"l":1,"s":21,"v":0.04},{"l":1,"s":22,"v":0.04},{"l":1,"s":23,"v":0.04},{"l":1,"s":24,"v":0.04},{"l":1,"s":25,"v":0.04},{"l":1,"s":26,"v":0.04},{"l":1,"s":27,"v":0.04},{"l":1,"s":28,"v":0.04},{"l":1,"s":29,"v":0.04},{"l":1,"s":30,"v":0.04},{"l":1,"s":31,"v":0.04},{"l":1,"s":32,"v":0.04},{"l":1,"s":33,"v":0.04},{"l":1,"s":34,"v":0.04},{"l":1,"s":35,"v":0.04},{"l":1,"s":36,"v":0.04},{"l":1,"s":37,"v":0.04},{"l":1,"s":38,"v":0.04},{"l":1,"s":39,"v":0.04},{"l":1,"s":40,"v":0.04},{"l":1,"s":41,"v":0.04},{"l":1,"s":42,"v":0.04},{"l":1,"s":43,"v":0.04},{"l":1,"s":44,"v":0.04},{"l":1,"s":45,"v":0.04},
      {"l":0,"s":0,"v":0.04},{"l":0,"s":1,"v":0.04},{"l":0,"s":2,"v":0.04},{"l":0,"s":3,"v":0.04},{"l":0,"s":4,"v":0.04},{"l":0,"s":5,"v":0.04},{"l":0,"s":6,"v":0.04},{"l":0,"s":7,"v":0.04},{"l":0,"s":8,"v":0.04},{"l":0,"s":9,"v":0.04},{"l":0,"s":10,"v":0.04},{"l":0,"s":11,"v":0.04},{"l":0,"s":12,"v":0.04},{"l":0,"s":13,"v":0.04},{"l":0,"s":14,"v":0.04},{"l":0,"s":15,"v":0.04},{"l":0,"s":16,"v":0.04},{"l":0,"s":17,"v":0.04},{"l":0,"s":18,"v":0.04},{"l":0,"s":19,"v":0.04},{"l":0,"s":20,"v":0.04},{"l":0,"s":21,"v":0.04},{"l":0,"s":22,"v":0.04},{"l":0,"s":23,"v":0.04},{"l":0,"s":24,"v":0.04},{"l":0,"s":25,"v":0.04},{"l":0,"s":26,"v":0.04},{"l":0,"s":27,"v":0.04},{"l":0,"s":28,"v":0.04},{"l":0,"s":29,"v":0.04},{"l":0,"s":30,"v":0.04},{"l":0,"s":31,"v":0.04},{"l":0,"s":32,"v":0.04},{"l":0,"s":33,"v":0.04},{"l":0,"s":34,"v":0.04},{"l":0,"s":35,"v":0.04},{"l":0,"s":36,"v":0.04},{"l":0,"s":37,"v":0.04},{"l":0,"s":38,"v":0.04},{"l":0,"s":39,"v":0.04},{"l":0,"s":40,"v":0.04},{"l":0,"s":41,"v":0.04},{"l":0,"s":42,"v":0.04},{"l":0,"s":43,"v":0.04},{"l":0,"s":44,"v":0.04},{"l":0,"s":45,"v":0.04}
    ]
  },
  "spacing": 67,
  "resolve": {"scale": {"color": "shared"}},
  "hconcat": [
    {
      "title": {"text": "N-gram", "font": "DejaVu Serif", "fontSize": 46, "fontWeight": "normal", "color": "black", "offset": 16},
      "width": 411, "height": 1008,
      "data": {"name": "ngram"},
      "mark": {"type": "rect", "binSpacing": 0, "xOffset": 0.4, "x2Offset": -0.4, "height": 68},
      "encoding": {
        "x": {"field": "s", "type": "quantitative", "bin": {"binned": true, "step": 1},
              "scale": {"domain": [0, 16], "nice": false, "zero": false},
              "axis": {"values": [0, 5.3333, 10.6667, 16], "labelExpr": "datum.value < 1 ? '503' : datum.value < 8 ? '14k' : datum.value < 13 ? '30k' : '47k'",
                       "labelAngle": -30, "labelAlign": "center", "labelBaseline": "middle", "labelPadding": 75, "labelFlush": false, "labelOverlap": false, "title": null, "zindex": 1}},
        "y": {"field": "l", "type": "ordinal", "sort": "descending", "scale": {"paddingInner": 0, "paddingOuter": 0},
              "axis": {"values": [0, 2, 4, 6, 8, 10, 12, 14], "labelFontWeight": "bold", "labelPadding": 44, "title": "Layer", "titlePadding": 7, "zindex": 1}},
        "color": {"field": "v", "type": "quantitative",
                  "scale": {"domain": [-0.01, 5.55], "range": ["#a5cd90", "#7dba91", "#59a590", "#40908e", "#287a8c", "#1c6488", "#254b7f", "#2c3172"], "interpolate": "rgb", "clamp": true},
                  "legend": {"type": "gradient", "title": null, "orient": "none", "legendX": 1401, "legendY": 99, "direction": "vertical", "padding": 0,
                             "gradientLength": 810, "gradientThickness": 40, "values": [0, 1, 2, 3, 4, 5],
                             "gradientStrokeColor": "black", "gradientStrokeWidth": 5,
                             "labelFont": "DejaVu Serif", "labelFontSize": 33, "labelFontWeight": "bold", "labelColor": "black", "labelOffset": 36, "labelBaseline": "middle"}}
      }
    },
    {
      "title": {"text": "PCFG", "font": "DejaVu Serif", "fontSize": 46, "fontWeight": "normal", "color": "black", "offset": 16},
      "width": 411, "height": 1008,
      "data": {"name": "pcfg"},
      "mark": {"type": "rect", "binSpacing": 0, "xOffset": 0.4, "x2Offset": -0.4, "height": 68},
      "encoding": {
        "x": {"field": "s", "type": "quantitative", "bin": {"binned": true, "step": 1},
              "scale": {"domain": [0, 31], "nice": false, "zero": false},
              "axis": {"values": [0, 10.3333, 20.6667, 31], "labelExpr": "datum.value < 1 ? '386' : datum.value < 15 ? '13k' : datum.value < 25 ? '26k' : '39k'",
                       "labelAngle": -30, "labelAlign": "center", "labelBaseline": "middle", "labelPadding": 75, "labelFlush": false, "labelOverlap": false, "title": "Training Step", "titlePadding": 13, "zindex": 1}},
        "y": {"field": "l", "type": "ordinal", "sort": "descending", "scale": {"paddingInner": 0, "paddingOuter": 0},
              "axis": {"values": [0, 2, 4, 6, 8, 10, 12, 14], "labels": false, "title": null, "zindex": 1}},
        "color": {"field": "v", "type": "quantitative"}
      }
    },
    {
      "title": {"text": "allenai/OLMo-1B", "font": "DejaVu Serif", "fontSize": 46, "fontWeight": "normal", "color": "black", "offset": 16},
      "width": 411, "height": 1008,
      "data": {"name": "olmo"},
      "mark": {"type": "rect", "binSpacing": 0, "xOffset": 0.4, "x2Offset": -0.4, "height": 68},
      "encoding": {
        "x": {"field": "s", "type": "quantitative", "bin": {"binned": true, "step": 1},
              "scale": {"domain": [0, 46], "nice": false, "zero": false},
              "axis": {"values": [0, 15.3333, 30.6667, 46], "labelExpr": "datum.value < 1 ? '1k' : datum.value < 20 ? '398k' : datum.value < 40 ? '535k' : '738k'",
                       "labelAngle": -30, "labelAlign": "center", "labelBaseline": "middle", "labelPadding": 75, "labelFlush": false, "labelOverlap": false, "title": null, "zindex": 1}},
        "y": {"field": "l", "type": "ordinal", "sort": "descending", "scale": {"paddingInner": 0, "paddingOuter": 0},
              "axis": {"values": [0, 2, 4, 6, 8, 10, 12, 14], "labels": false, "title": null, "zindex": 1}},
        "color": {"field": "v", "type": "quantitative"}
      }
    }
  ]
}
